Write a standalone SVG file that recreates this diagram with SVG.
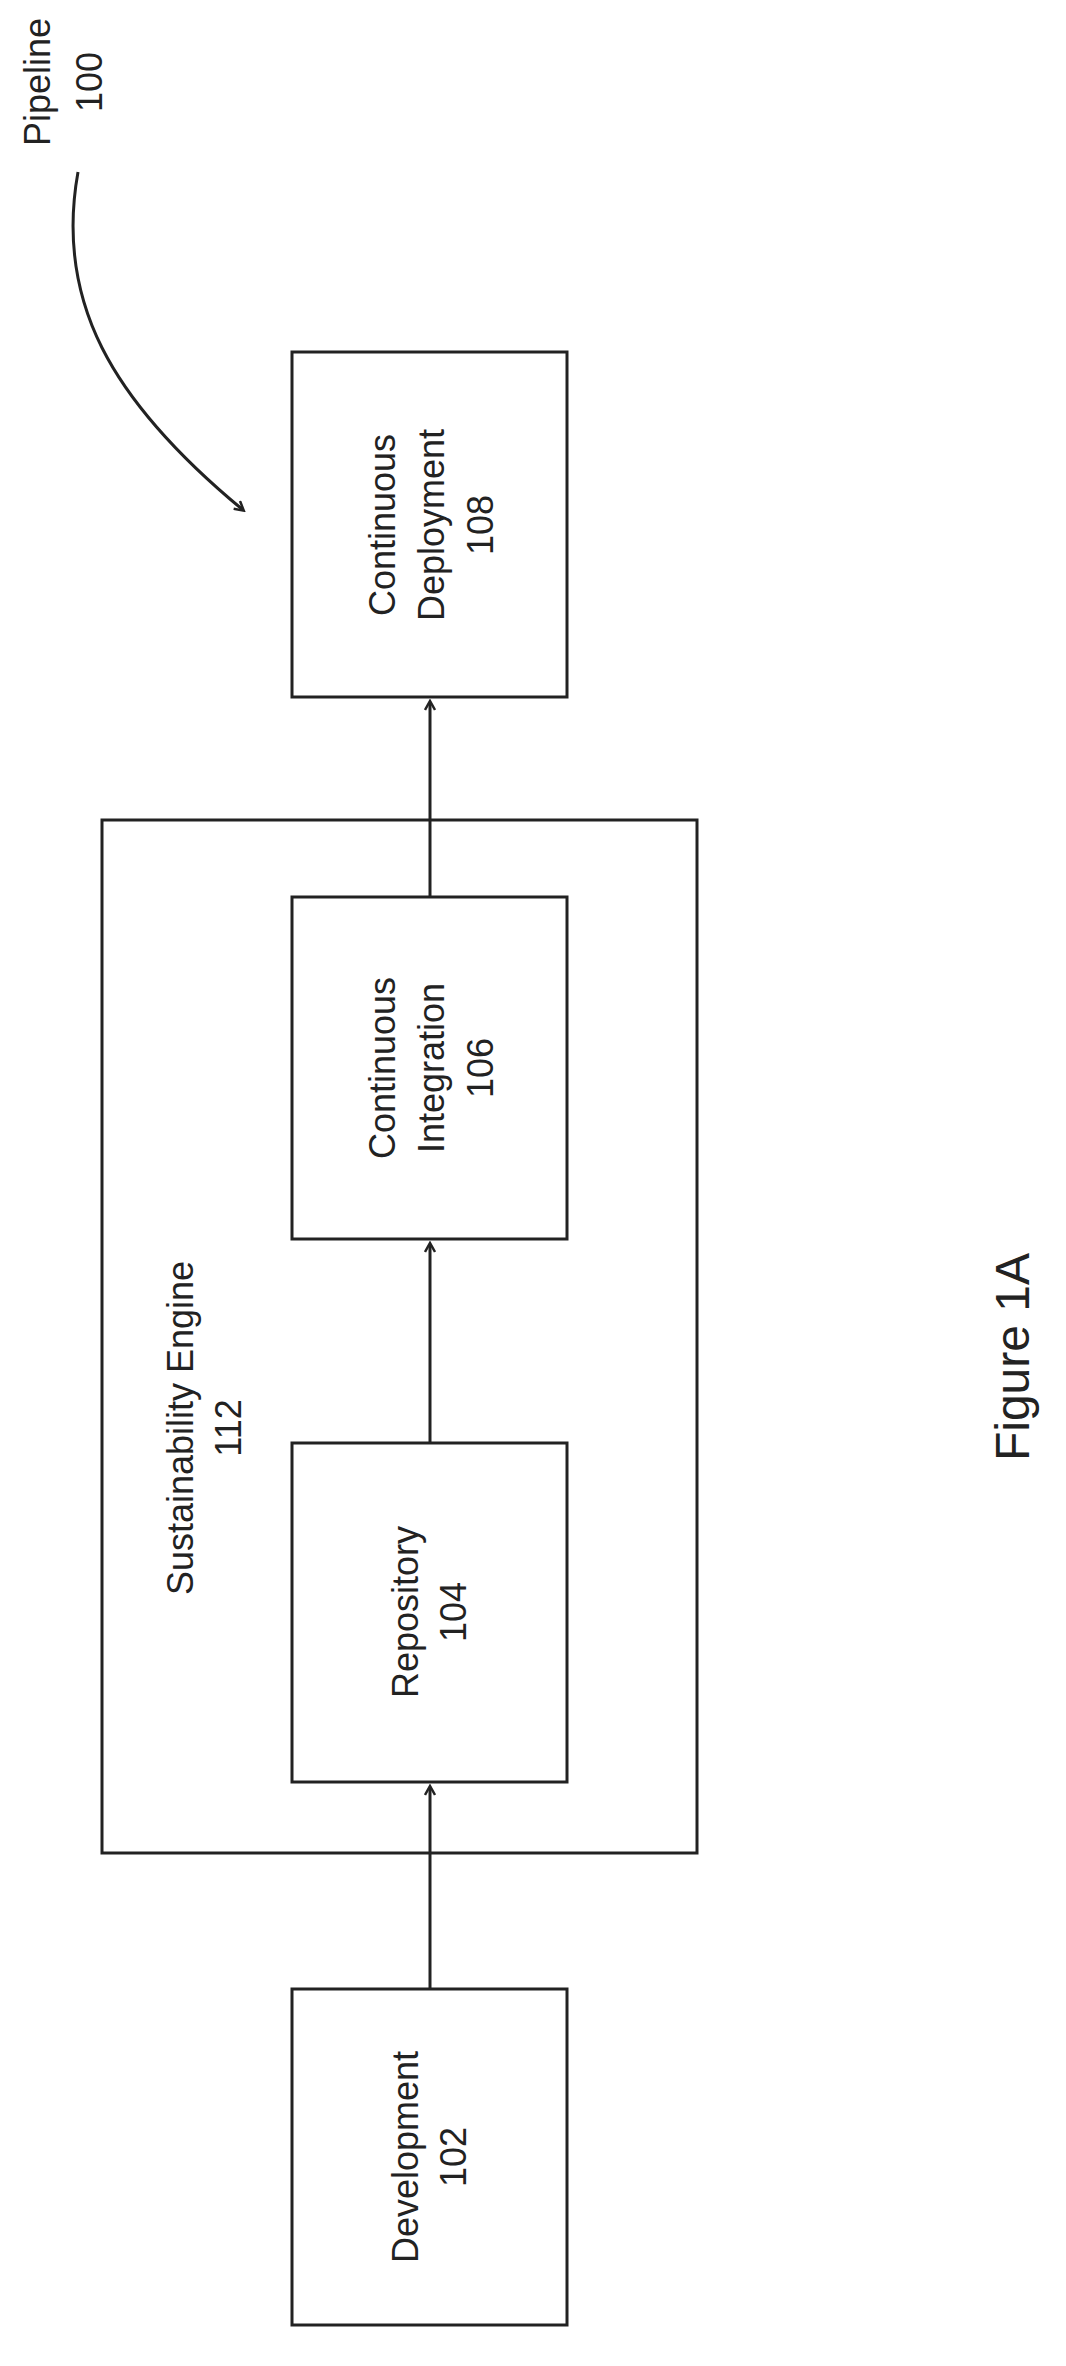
<svg xmlns="http://www.w3.org/2000/svg" width="1066" height="2366" viewBox="0 0 1066 2366">
<style>
.b{fill:none;stroke:#222;stroke-width:3}
.t{font-family:"Liberation Sans",Arial,sans-serif;font-size:36px;fill:#222;text-anchor:middle}
.c{fill:none;stroke:#222;stroke-width:3}
</style>
<defs><marker id="a" markerWidth="12" markerHeight="12" refX="9" refY="6" orient="auto" markerUnits="userSpaceOnUse"><path d="M1,1 L10,6 L1,11" fill="none" stroke="#222" stroke-width="2.5"/></marker></defs>
<rect width="1066" height="2366" fill="#fff"/>
<g id="pipeline"><text class="t" transform="rotate(-90 50 82)" x="50" y="82">Pipeline</text><text class="t" transform="rotate(-90 102 82)" x="102" y="82">100</text></g>
<g id="engine"><rect class="b" x="102" y="820" width="595" height="1033"/><text class="t" transform="rotate(-90 193 1428)" x="193" y="1428">Sustainability Engine</text><text class="t" transform="rotate(-90 241 1428)" x="241" y="1428">112</text></g>
<g id="cd"><rect class="b" x="292" y="352" width="275" height="345"/><text class="t" transform="rotate(-90 395 525)" x="395" y="525">Continuous</text><text class="t" transform="rotate(-90 444 525)" x="444" y="525">Deployment</text><text class="t" transform="rotate(-90 493 525)" x="493" y="525">108</text></g>
<g id="ci"><rect class="b" x="292" y="897" width="275" height="342"/><text class="t" transform="rotate(-90 395 1068)" x="395" y="1068">Continuous</text><text class="t" transform="rotate(-90 444 1068)" x="444" y="1068">Integration</text><text class="t" transform="rotate(-90 493 1068)" x="493" y="1068">106</text></g>
<g id="repo"><rect class="b" x="292" y="1443" width="275" height="339"/><text class="t" transform="rotate(-90 418 1612)" x="418" y="1612">Repository</text><text class="t" transform="rotate(-90 466 1612)" x="466" y="1612">104</text></g>
<g id="dev"><rect class="b" x="292" y="1989" width="275" height="336"/><text class="t" transform="rotate(-90 418 2157)" x="418" y="2157">Development</text><text class="t" transform="rotate(-90 466 2157)" x="466" y="2157">102</text></g>
<g id="fig"><text class="t" style="font-size:48px" transform="rotate(-90 1029 1357)" x="1029" y="1357">Figure 1A</text></g>
<g id="connectors">
<path class="c" d="M430 897 V702" marker-end="url(#a)"/>
<path class="c" d="M430 1443 V1244" marker-end="url(#a)"/>
<path class="c" d="M430 1989 V1787" marker-end="url(#a)"/>
<path class="c" d="M78 172 C55 300 110 400 243 510" marker-end="url(#a)"/>
</g>
</svg>
